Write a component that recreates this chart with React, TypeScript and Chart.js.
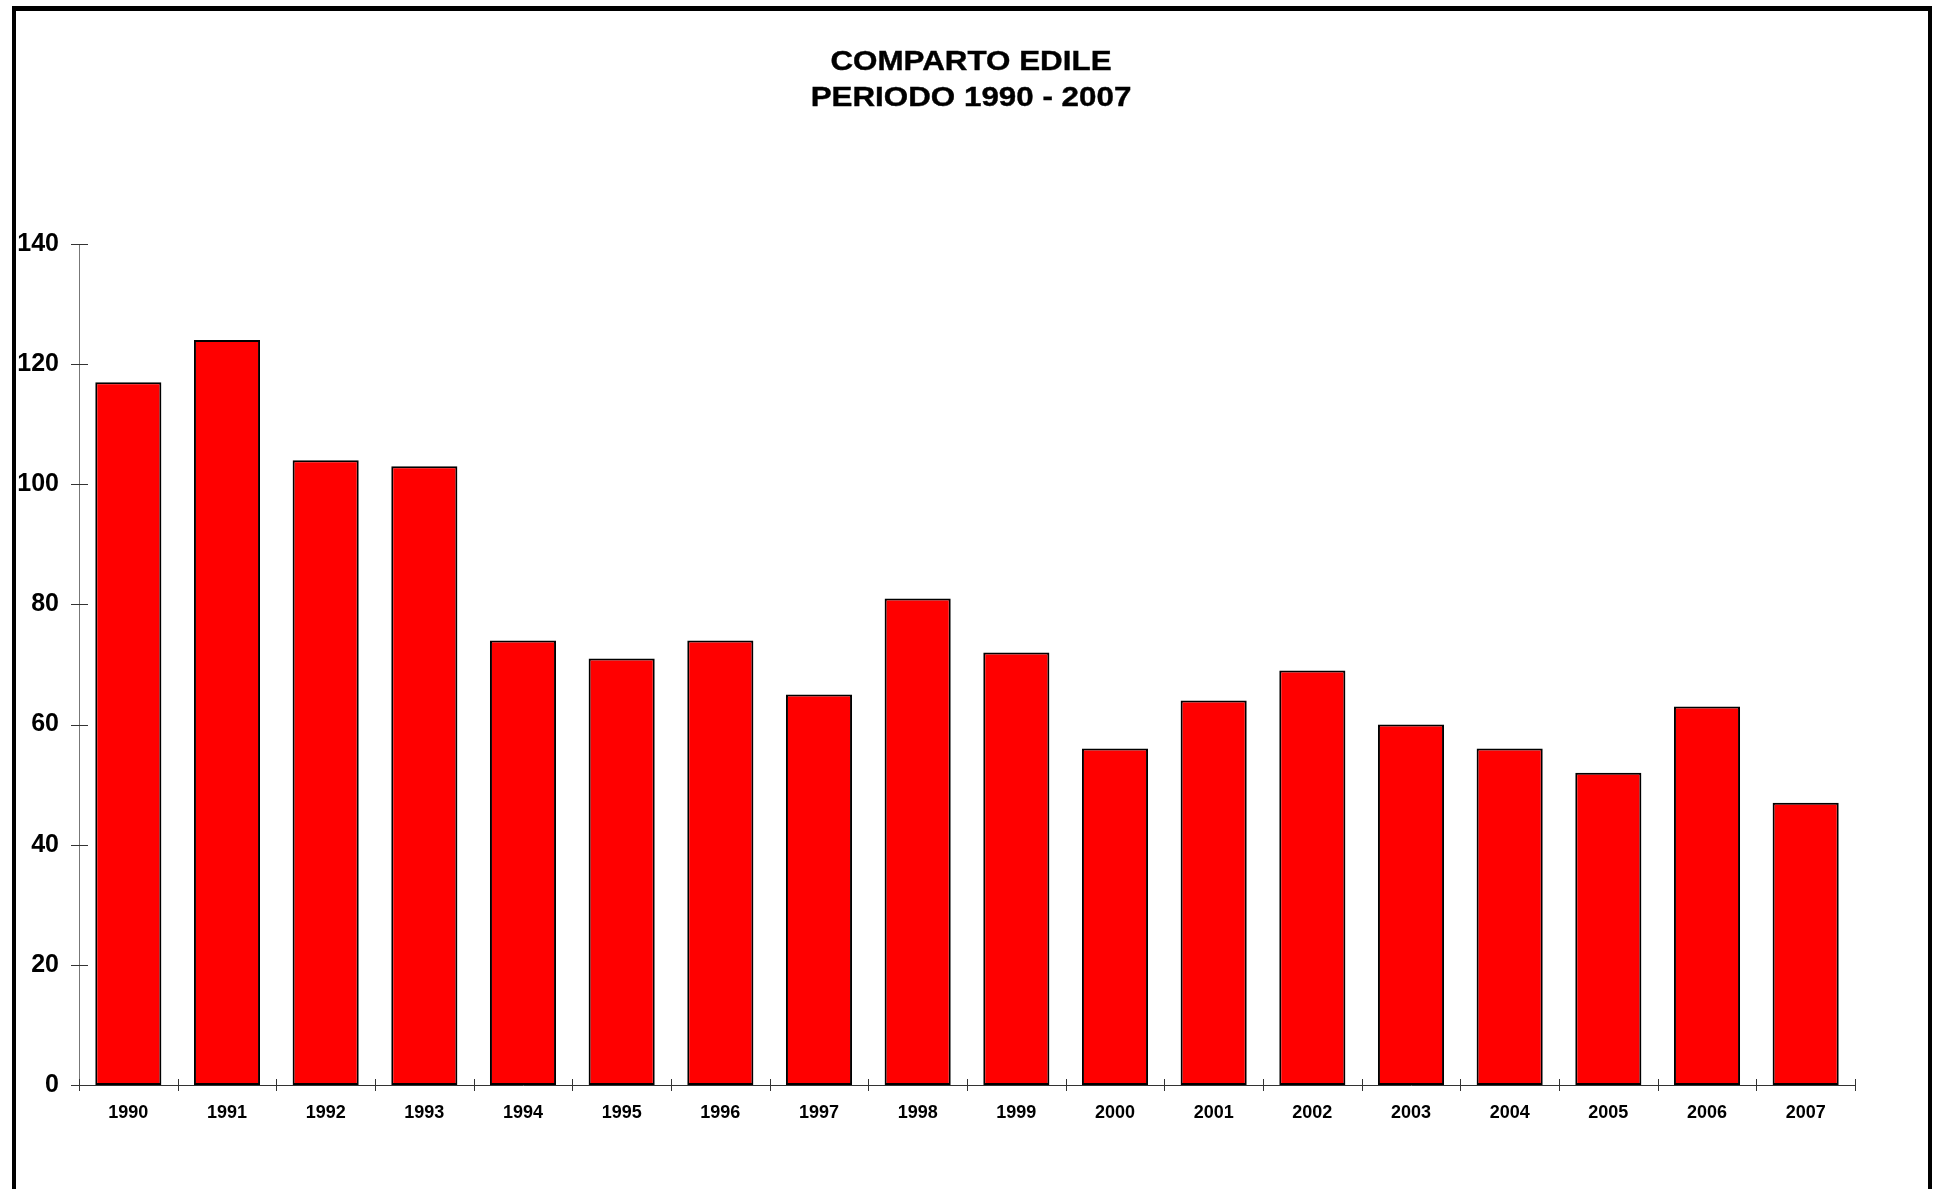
import React, { useEffect, useRef } from "react";
import { Chart, registerables } from "chart.js";

Chart.register(...registerables);

const years: string[] = [
  "1990", "1991", "1992", "1993", "1994", "1995", "1996", "1997", "1998",
  "1999", "2000", "2001", "2002", "2003", "2004", "2005", "2006", "2007",
];
const values: number[] = [117, 124, 104, 103, 74, 71, 74, 65, 81, 72, 56, 64, 69, 60, 56, 52, 63, 47];
const titleLines: string[] = ["COMPARTO EDILE", "PERIODO 1990 - 2007"];
const yMin = 0;
const yMax = 140;
const yStep = 20;

const FONT = 'Arial, "Liberation Sans", Helvetica, sans-serif';

// Title drawn on the canvas, slightly stretched horizontally like the original
const stretchedTitle = {
  id: "stretchedTitle",
  afterDraw(chart: any) {
    const ctx = chart.ctx;
    ctx.save();
    ctx.fillStyle = "#000";
    ctx.strokeStyle = "#000";
    ctx.lineWidth = 0.4;
    ctx.font = `bold 28px ${FONT}`;
    ctx.textAlign = "center";
    ctx.textBaseline = "alphabetic";
    const cx = 971;
    const baselines = [70, 106];
    titleLines.forEach((line, i) => {
      ctx.save();
      ctx.translate(cx, baselines[i]);
      ctx.scale(1.12, 1);
      ctx.fillText(line, 0, 0);
      ctx.strokeText(line, 0, 0);
      ctx.restore();
    });
    ctx.restore();
  },
};

const crossTicks = {
  id: "crossTicks",
  afterDraw(chart: any) {
    const ctx = chart.ctx;
    const x = chart.scales.x;
    const y = chart.scales.y;
    ctx.save();
    ctx.strokeStyle = "#333";
    ctx.lineWidth = 1;
    ctx.beginPath();
    for (let v = yMin; v <= yMax; v += yStep) {
      const py = Math.round(y.getPixelForValue(v)) + 0.5;
      ctx.moveTo(x.left - 8, py);
      ctx.lineTo(x.left + 9, py);
    }
    const bottom = y.bottom;
    for (let i = 0; i <= years.length; i++) {
      const px = Math.round(x.getPixelForValue(i - 0.5)) + 0.5;
      ctx.moveTo(px, bottom - 6);
      ctx.lineTo(px, bottom + 6);
    }
    ctx.stroke();
    ctx.restore();
  },
};

export default function App() {
  const ref = useRef<HTMLCanvasElement | null>(null);

  useEffect(() => {
    if (!ref.current) return;
    const chart = new Chart(ref.current, {
      type: "bar",
      data: {
        labels: years,
        datasets: [
          {
            data: values,
            backgroundColor: "#FF0000",
            borderColor: "#000000",
            borderWidth: 2,
            borderSkipped: false,
            categoryPercentage: 1,
            barPercentage: 0.67,
          },
        ],
      },
      options: {
        responsive: false,
        animation: false,
        layout: { padding: { top: 244, left: 0, right: 81, bottom: 0 } },
        plugins: {
          legend: { display: false },
          tooltip: { enabled: false },
          title: { display: false },
        },
        scales: {
          x: {
            grid: { display: false, drawTicks: false },
            border: { display: true, color: "#333", width: 1 },
            ticks: {
              color: "#000",
              font: { family: FONT, size: 18, weight: "bold" },
              padding: 17,
              maxRotation: 0,
              autoSkip: false,
            },
            afterFit(scale: any) {
              scale.height = 104;
            },
          },
          y: {
            min: yMin,
            max: yMax,
            grid: { display: false, drawTicks: false },
            border: { display: true, color: "#777", width: 1 },
            ticks: {
              stepSize: yStep,
              color: "#000",
              font: { family: FONT, size: 25, weight: "bold" },
              padding: 20,
            },
            afterFit(scale: any) {
              scale.width = 79;
            },
          },
        },
      },
      plugins: [crossTicks, stretchedTitle],
    });
    return () => chart.destroy();
  }, []);

  return (
    <div
      style={{
        position: "absolute",
        left: 0,
        top: 0,
        width: 1936,
        height: 1189,
        overflow: "hidden",
        background: "#fff",
      }}
    >
      <canvas ref={ref} width={1936} height={1189} style={{ position: "absolute", left: 0, top: 0 }} />
      <div
        style={{
          position: "absolute",
          left: 12,
          top: 6,
          width: 1920,
          height: 1300,
          boxSizing: "border-box",
          borderTop: "5px solid #000",
          borderLeft: "4px solid #000",
          borderRight: "4px solid #000",
          pointerEvents: "none",
        }}
      />
    </div>
  );
}
